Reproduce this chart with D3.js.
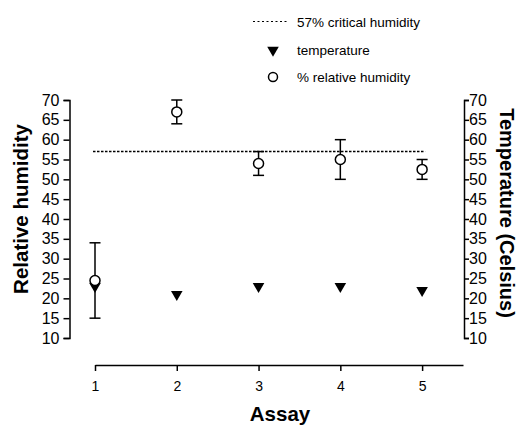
<!DOCTYPE html>
<meta charset="utf-8">
<head>
<style>
body { margin: 0; background: #fff; }
svg { font-family: "Liberation Sans", Arial, sans-serif; }
.axis path, .axis line { stroke: #000; stroke-width: 1.5; }
.axis text { fill: #000; }
.title { font-weight: bold; font-size: 20.5px; fill: #000; }
.legend text { font-size: 13.5px; fill: #000; }
</style>
</head>
<body>
<svg width="519" height="426"></svg>
<script src="https://d3js.org/d3.v7.min.js"></script>
<script>

// data
var assays = [1, 2, 3, 4, 5];
var humidity = [24.5, 67, 54, 55, 52.5];
var humidityErr = [9.5, 3, 3, 5, 2.5];
var temperature = [23, 21, 23, 23, 22];
var critical = 57;
var yTicks = [10, 15, 20, 25, 30, 35, 40, 45, 50, 55, 60, 65, 70];

var svg = d3.select("svg");

var x = d3.scaleLinear().domain([1, 5.5]).range([95, 463]);
var y = d3.scaleLinear().domain([10, 70]).range([338, 100]);
var yT = d3.scaleLinear().domain([10, 70]).range([338, 100]);

// left axis
svg.append("g")
    .attr("class", "axis")
    .attr("transform", "translate(69.5,0)")
    .call(d3.axisLeft(y).tickValues(yTicks).tickSize(6).tickPadding(4).tickSizeOuter(6))
    .selectAll("text").style("font-size", "16px");

// right axis
svg.append("g")
    .attr("class", "axis")
    .attr("transform", "translate(464,0)")
    .call(d3.axisRight(yT).tickValues(yTicks).tickSize(5).tickPadding(0).tickSizeOuter(5))
    .selectAll("text").style("font-size", "16px");

// x axis
svg.append("g")
    .attr("class", "axis")
    .attr("transform", "translate(0,365)")
    .call(d3.axisBottom(x).tickValues(assays).tickFormat(d3.format("d")).tickSize(6).tickPadding(10).tickSizeOuter(0))
    .selectAll("text").style("font-size", "14px");

svg.append("text").attr("class", "title")
    .attr("text-anchor", "middle")
    .attr("transform", "translate(28,209) rotate(-90)")
    .text("Relative humidity");

svg.append("text").attr("class", "title")
    .attr("text-anchor", "middle")
    .attr("transform", "translate(500,213) rotate(90)")
    .style("font-size", "20px")
    .text("Temperature (Celsius)");

svg.append("text").attr("class", "title")
    .attr("text-anchor", "middle")
    .attr("x", 280).attr("y", 421)
    .text("Assay");

// critical humidity line
svg.append("line")
    .attr("x1", x(1) - 2).attr("x2", x(5) + 3)
    .attr("y1", y(critical)).attr("y2", y(critical))
    .attr("stroke", "#000").attr("stroke-width", 1.5)
    .attr("stroke-dasharray", "2.5,1.5");

var tri = d3.symbol().type(d3.symbolTriangle).size(58);

// temperature
svg.selectAll(".temp")
    .data(assays)
    .enter().append("path")
    .attr("class", "temp")
    .attr("d", tri)
    .attr("fill", "#000")
    .attr("transform", function(d, i) { return "translate(" + x(d) + "," + yT(temperature[i]) + ") rotate(180)"; });

// humidity error bars
var eb = svg.selectAll(".err")
    .data(assays)
    .enter().append("g")
    .attr("class", "err")
    .attr("stroke", "#000").attr("stroke-width", 1.5);

eb.append("line")
    .attr("x1", function(d) { return x(d); })
    .attr("x2", function(d) { return x(d); })
    .attr("y1", function(d, i) { return y(humidity[i] - humidityErr[i]); })
    .attr("y2", function(d, i) { return y(humidity[i] + humidityErr[i]); });

eb.selectAll(".cap")
    .data(function(d, i) { return [[d, humidity[i] - humidityErr[i]], [d, humidity[i] + humidityErr[i]]]; })
    .enter().append("line")
    .attr("x1", function(d) { return x(d[0]) - 5.5; })
    .attr("x2", function(d) { return x(d[0]) + 5.5; })
    .attr("y1", function(d) { return y(d[1]); })
    .attr("y2", function(d) { return y(d[1]); });

svg.selectAll(".hum")
    .data(assays)
    .enter().append("circle")
    .attr("class", "hum")
    .attr("cx", function(d) { return x(d); })
    .attr("cy", function(d, i) { return y(humidity[i]); })
    .attr("r", 5)
    .attr("fill", "#fff")
    .attr("stroke", "#000")
    .attr("stroke-width", 1.5);

// legend
var legend = svg.append("g").attr("class", "legend");

legend.append("line")
    .attr("x1", 253).attr("x2", 287).attr("y1", 21.5).attr("y2", 21.5)
    .attr("stroke", "#000").attr("stroke-width", 1.2).attr("stroke-dasharray", "2,2.5");
legend.append("text").attr("x", 297).attr("y", 26.5).text("57% critical humidity");

legend.append("path")
    .attr("d", tri)
    .attr("transform", "translate(273,50) rotate(180)")
    .attr("fill", "#000");
legend.append("text").attr("x", 297).attr("y", 55).text("temperature");

legend.append("circle")
    .attr("cx", 273).attr("cy", 77).attr("r", 4.5)
    .attr("fill", "#fff").attr("stroke", "#000").attr("stroke-width", 1.5);
legend.append("text").attr("x", 297).attr("y", 82).text("% relative humidity");

</script>
</body>
</html>
